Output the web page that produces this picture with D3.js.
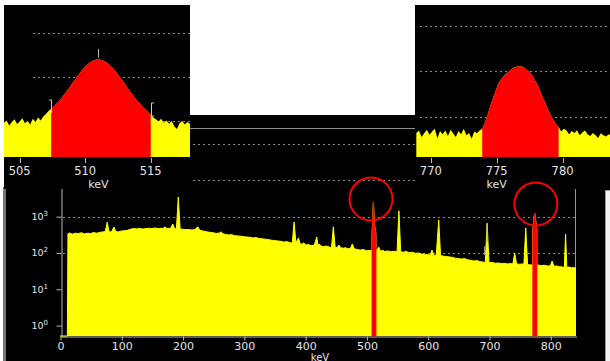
<!DOCTYPE html>
<html><head><meta charset="utf-8">
<script src="https://cdn.jsdelivr.net/npm/d3@7"></script>
<style>
body{margin:0;background:#fff}
svg{display:block}
text{font-family:"DejaVu Sans",Verdana,sans-serif}
</style>
</head><body>
<svg id="c" width="610" height="361"></svg>
<script>
// ---------------- DATA ----------------
// Main spectrum: [energy keV, counts]
const mainSpectrum = [
[0,0],[12,0],[13,340],[16,355],[20,330],[25,350],[30,345],[35,360],[40,335],[45,350],[50,345],[55,365],[60,350],[65,370],[70,380],[74,390],[77,700],[80,385],[84,380],[88,520],[91,390],[95,380],
[100,400],[105,410],[110,420],[115,450],[120,470],[125,460],[130,475],[135,455],[140,470],[145,480],[150,470],[155,490],[160,465],[165,480],[168,470],[171,520],[174,480],[178,470],[181,490],[184,630],[187,470],[190,460],[193,3470],[196,460],
[200,450],[205,440],[210,445],[215,430],[220,440],[225,525],[228,420],[232,410],[236,395],[240,380],[245,370],[250,360],[255,345],[260,355],[263,380],[266,340],[270,325],[275,315],[280,320],[285,300],[290,295],[295,290],
[300,280],[305,275],[310,270],[315,260],[320,265],[325,250],[330,245],[335,240],[340,235],[345,225],[350,220],[355,215],[360,210],[365,200],[370,205],[375,195],[379,185],[382,710],[385,185],[389,260],[392,180],[395,175],[398,190],
[401,165],[405,170],[410,160],[415,165],[419,275],[421,160],[423,178],[426,155],[430,150],[435,155],[440,145],[443,140],[446,525],[449,145],[452,140],[455,166],[458,140],[462,135],[466,140],[470,130],[474,135],[477,178],[480,130],[485,125],[490,120],[495,125],
[500,115],[505,118],[509.1,115],[509.2,330],[511.4,2540],[513.2,600],[515.5,330],[515.6,112],[517,115],[520,147],[523,112],[527,118],[530,110],[535,114],[540,108],[545,112],[550,108],[553,1450],[556,108],[560,105],[565,110],[570,102],[575,105],[580,98],[585,100],[590,94],[595,92],
[600,90],[604,88],[607,120],[610,86],[614,88],[618,810],[621,85],[625,82],[630,80],[635,78],[640,76],[645,72],[650,70],[655,68],[660,70],[665,65],[670,63],[675,60],[680,62],[685,58],[690,56],[694,55],[697,660],
[700,54],[705,55],[710,52],[715,53],[720,51],[725,52],[730,50],[735,51],[739,50],[742,100],[745,50],[750,49],[755,50],[757,49],[760,490],[763,48],[767,47],[771.5,47],[771.6,450],[774.5,1260],[778.1,450],[778.2,46],[782,46],[786,45],[790,46],[795,44],
[800,44],[803,60],[806,43],[810,44],[815,42],[820,41],[823,40],[825,330],[827,40],[830,41],[835,39],[838,40],[842,38]
];
const mainRois = [[509.1, 515.6], [771.5, 778.2]];
const mainXTicks = [0, 100, 200, 300, 400, 500, 600, 700, 800];
const mainYTicks = [1, 10, 100, 1000];
const mainYExponents = ["0", "1", "2", "3"];
const mainGridValues = [100, 1000, 10000, 100000];
const mainXDomain = [0, 842];
const mainYDomain = [0.516, 6166];
const highlightCircles = [[507.5, 3080], [776.5, 2240]];
const mainPeakMarker = {energy: 697, top: 660, bottom: 200, bracketLow: 88, bracketHigh: 150};

// Inset 1 (511 keV region)
const inset1Start = 503.8, inset1Step = 0.2;
const inset1Counts = [960,1010,900,980,1040,930,990,1060,950,1000,920,1050,980,1080,1010,1100,1160,1230,
1270,1330,1390,1450,1530,1600,1680,1760,1850,1930,2010,2090,2170,2230,2290,2335,2370,2390,2400,
2390,2370,2335,2290,2235,2170,2095,2015,1935,1850,1765,1680,1600,1525,1450,1385,1320,1260,1200,1150,
1080,1040,990,1050,960,1010,940,1000,880,820,950,1000,920,980,940];
const inset1Roi = [507.4, 515.0];
const inset1XDomain = [503.8, 518.0];
const inset1YDomain = [182, 3636];
const inset1Ticks = [505, 510, 515];
const inset1Grid = [1000, 2000, 3000];
const inset1LabelEnergy = 511.0;
const inset1PeakMark = {energy: 511.0, low: 2440, high: 2640};
const inset1Brackets = [{energy: 507.4, low: 1182, high: 1477, dir: -1}, {energy: 515.0, low: 1114, high: 1410, dir: 1}];

// Inset 2 (777 keV region)
const inset2Start = 768.9, inset2Step = 0.2;
const inset2Counts = [650,700,560,640,720,610,680,740,530,690,620,700,580,720,640,560,690,620,740,600,650,520,680,640,700,
740,880,1040,1230,1400,1560,1720,1820,1890,1950,1995,2040,2090,2105,2115,2110,2085,2030,1990,1910,1810,1710,1570,1420,1310,1160,1040,930,840,780,
680,740,700,620,690,650,710,600,660,700,620,580,650,600,540,640,600,570,620,590];
const inset2Roi = [773.9, 779.7];
const inset2XDomain = [768.8, 783.6];
const inset2YDomain = [120, 3462];
const inset2Ticks = [770, 775, 780];
const inset2Grid = [1000, 2000, 3000];
const inset2LabelEnergy = 775.0;

// ---------------- DRAW ----------------
const YELLOW = "#ffff00", RED = "#ff0000", TXT = "#e4e4e4", AX = "#b8b8b8", GRID = "#8a8a8a";
const svg = d3.select("#c");
svg.append("rect").attr("width", 610).attr("height", 361).attr("fill", "#fff");

// main panel background
svg.append("rect").attr("x", 4).attr("y", 115).attr("width", 606).attr("height", 246).attr("fill", "#000");
svg.append("line").attr("x1", 4).attr("x2", 605).attr("y1", 128.5).attr("y2", 128.5).attr("stroke", "#8f8f8f");

const x = d3.scaleLinear().domain(mainXDomain).range([60, 576]);
const y = d3.scaleLog().domain(mainYDomain).range([336, 188]);
const yv = v => y(Math.max(v, mainYDomain[0]));

// gridlines
svg.append("g").selectAll("line").data(mainGridValues).join("line")
  .attr("x1", 63).attr("x2", 575)
  .attr("y1", d => Math.round(y(d)) + 0.5).attr("y2", d => Math.round(y(d)) + 0.5)
  .attr("stroke", GRID).attr("stroke-dasharray", "2,3");

// axes
const xAxis = svg.append("g").attr("transform", "translate(0.5,336.5)")
  .call(d3.axisBottom(x).tickValues(mainXTicks).tickSize(4).tickPadding(2).tickSizeOuter(0).tickFormat(d3.format("d")));
xAxis.select(".domain").attr("stroke", AX);
xAxis.selectAll(".tick line").attr("stroke", AX);
xAxis.selectAll("text").attr("fill", TXT).attr("font-size", 11).attr("font-family", "DejaVu Sans, Verdana, sans-serif");

const yAxis = svg.append("g").attr("transform", "translate(61.5,0)")
  .call(d3.axisLeft(y).tickValues(mainYTicks).tickSize(5).tickSizeOuter(0).tickFormat(""));
yAxis.select(".domain").attr("stroke", AX);
yAxis.selectAll(".tick line").attr("stroke", AX);

const yl = svg.append("g").selectAll("text").data(mainYTicks).join("text")
  .attr("x", 48).attr("y", d => y(d) + 3.5).attr("text-anchor", "end")
  .attr("fill", TXT).attr("font-size", 9.5);
yl.append("tspan").text("10");
yl.append("tspan").attr("dy", -4).attr("font-size", 7).text((d, i) => mainYExponents[i]);

svg.append("text").attr("x", 320).attr("y", 360.5).attr("text-anchor", "middle")
  .attr("fill", TXT).attr("font-size", 10).text("keV");

// right plot border
svg.append("line").attr("x1", 575.5).attr("x2", 575.5).attr("y1", 188).attr("y2", 336).attr("stroke", "#999");

// spectrum
const mainArea = d3.area().x(d => x(d[0])).y0(336).y1(d => yv(d[1]));
const mainLine = d3.line().x(d => x(d[0])).y(d => yv(d[1]));
svg.append("path").datum(mainSpectrum).attr("d", mainArea).attr("fill", YELLOW);
svg.append("path").datum(mainSpectrum).attr("d", mainLine).attr("fill", "none").attr("stroke", YELLOW).attr("stroke-width", 1);
mainRois.forEach(r => {
  const pts = mainSpectrum.filter(d => d[0] >= r[0] && d[0] <= r[1]);
  svg.append("path").datum(pts).attr("d", mainArea).attr("fill", RED).attr("stroke", RED).attr("stroke-width", 0.8);
});
// gray peak marker
svg.append("line").attr("x1", x(mainPeakMarker.energy)).attr("x2", x(mainPeakMarker.energy))
  .attr("y1", yv(mainPeakMarker.top)).attr("y2", yv(mainPeakMarker.bottom)).attr("stroke", "#aaa");
{
  const bx = x(mainPeakMarker.energy) - 2.5;
  svg.append("path").attr("d", `M${bx + 2},${yv(mainPeakMarker.bracketHigh)}H${bx}V${yv(mainPeakMarker.bracketLow)}H${bx + 2}`)
    .attr("fill", "none").attr("stroke", "#aaa");
}

// side strips
svg.append("rect").attr("x", 605.5).attr("y", 190.5).attr("width", 6).attr("height", 172).attr("fill", "#f2f2f2").attr("stroke", "#999");
svg.append("rect").attr("x", 3).attr("y", 187).attr("width", 3).attr("height", 174).attr("fill", "#777");

// ---------------- INSETS ----------------
function drawInset(cfg) {
  const g = svg.append("g");
  const id = "clip" + cfg.id;
  svg.append("defs").append("clipPath").attr("id", id).append("rect")
    .attr("x", cfg.px0).attr("y", 5).attr("width", cfg.px1 - cfg.px0).attr("height", 183);
  g.append("rect").attr("x", cfg.px0).attr("y", 5).attr("width", cfg.px1 - cfg.px0).attr("height", 184).attr("fill", "#000");
  const sx = d3.scaleLinear().domain(cfg.xDomain).range([cfg.px0, cfg.px1]);
  const sy = d3.scaleLinear().domain(cfg.yDomain).range([157, 5]);
  const inner = g.append("g").attr("clip-path", `url(#${id})`);
  inner.selectAll("line.grid").data(cfg.grid).join("line").attr("class", "grid")
    .attr("x1", cfg.gx0).attr("x2", cfg.px1)
    .attr("y1", d => Math.round(sy(d)) + 0.5).attr("y2", d => Math.round(sy(d)) + 0.5)
    .attr("stroke", GRID).attr("stroke-dasharray", "2,3");
  const data = cfg.counts.map((c, i) => [cfg.start + i * cfg.step, c]);
  const ar = d3.area().x(d => sx(d[0])).y0(157).y1(d => sy(d[1]));
  inner.append("path").datum(data).attr("d", ar).attr("fill", YELLOW);
  const roiPts = data.filter(d => d[0] >= cfg.roi[0] - 1e-6 && d[0] <= cfg.roi[1] + 1e-6);
  inner.append("path").datum(roiPts).attr("d", ar).attr("fill", RED);
  // ticks and labels
  g.selectAll("line.tk").data(cfg.ticks).join("line").attr("class", "tk")
    .attr("x1", d => Math.round(sx(d)) + 0.5).attr("x2", d => Math.round(sx(d)) + 0.5)
    .attr("y1", 158).attr("y2", 163).attr("stroke", AX);
  g.selectAll("text.tl").data(cfg.ticks).join("text").attr("class", "tl")
    .attr("x", d => sx(d)).attr("y", 175).attr("text-anchor", "middle")
    .attr("fill", TXT).attr("font-size", 11.5).text(d => d);
  g.append("text").attr("x", sx(cfg.labelEnergy)).attr("y", 188).attr("text-anchor", "middle")
    .attr("fill", TXT).attr("font-size", 11).text("keV");
  return {g, sx, sy};
}

const i1 = drawInset({id: 1, px0: 4, px1: 190, gx0: 33, xDomain: inset1XDomain, yDomain: inset1YDomain,
  start: inset1Start, step: inset1Step, counts: inset1Counts, roi: inset1Roi, ticks: inset1Ticks,
  grid: inset1Grid, labelEnergy: inset1LabelEnergy});
// markers inset 1
i1.g.append("line").attr("x1", Math.round(i1.sx(inset1PeakMark.energy)) + 0.5).attr("x2", Math.round(i1.sx(inset1PeakMark.energy)) + 0.5)
  .attr("y1", i1.sy(inset1PeakMark.low)).attr("y2", i1.sy(inset1PeakMark.high)).attr("stroke", "#bbb");
inset1Brackets.forEach(b => {
  const bx = Math.round(i1.sx(b.energy)) + 0.5;
  i1.g.append("path").attr("d", `M${bx + 2.5 * b.dir},${i1.sy(b.high)}H${bx}V${i1.sy(b.low)}H${bx + 2.5 * b.dir}`)
    .attr("fill", "none").attr("stroke", "#ccc");
});

drawInset({id: 2, px0: 415, px1: 610, gx0: 420, xDomain: inset2XDomain, yDomain: inset2YDomain,
  start: inset2Start, step: inset2Step, counts: inset2Counts, roi: inset2Roi, ticks: inset2Ticks,
  grid: inset2Grid, labelEnergy: inset2LabelEnergy});

// highlight circles
svg.append("g").selectAll("circle").data(highlightCircles).join("circle")
  .attr("cx", d => x(d[0])).attr("cy", d => y(d[1])).attr("r", 21.5)
  .attr("fill", "none").attr("stroke", RED).attr("stroke-width", 2);
</script>
</body></html>
